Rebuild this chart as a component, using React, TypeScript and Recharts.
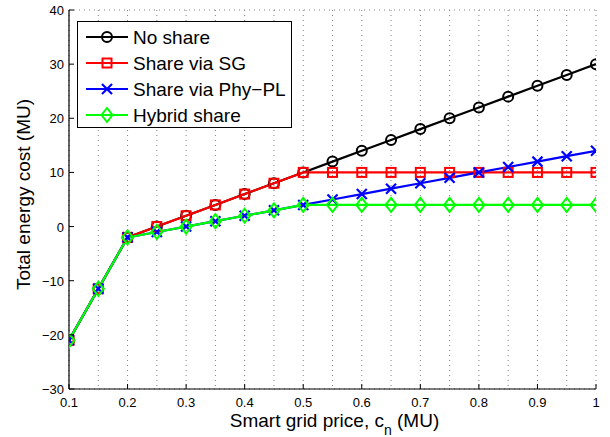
import React from 'react';
import { LineChart, Line, XAxis, YAxis, CartesianGrid, Legend } from 'recharts';

const prices = [0.1, 0.15, 0.2, 0.25, 0.3, 0.35, 0.4, 0.45, 0.5, 0.55, 0.6, 0.65, 0.7, 0.75, 0.8, 0.85, 0.9, 0.95, 1.0];
const noShare = [-21, -11.5, -2, 0, 2, 4, 6, 8, 10, 12, 14, 16, 18, 20, 22, 24, 26, 28, 30];
const shareSG = [-21, -11.5, -2, 0, 2, 4, 6, 8, 10, 10, 10, 10, 10, 10, 10, 10, 10, 10, 10];
const sharePL = [-21, -11.5, -2, -1, 0, 1, 2, 3, 4, 5, 6, 7, 8, 9, 10, 11, 12, 13, 14];
const hybrid = [-21, -11.5, -2, -1, 0, 1, 2, 3, 4, 4, 4, 4, 4, 4, 4, 4, 4, 4, 4];

const xTicks = [0.1, 0.2, 0.3, 0.4, 0.5, 0.6, 0.7, 0.8, 0.9, 1];
const xTickLabels = ['0.1', '0.2', '0.3', '0.4', '0.5', '0.6', '0.7', '0.8', '0.9', '1'];
const yTicks = [-30, -20, -10, 0, 10, 20, 30, 40];

const seriesNames = ['No share', 'Share via SG', 'Share via Phy\u2212PL', 'Hybrid share'];
const seriesColors = ['#000000', '#ff0000', '#0000ff', '#00ff00'];

const data = prices.map((p, i) => ({
  p,
  noShare: noShare[i],
  shareSG: shareSG[i],
  sharePL: sharePL[i],
  hybrid: hybrid[i],
}));

const FONT = '"Liberation Sans", Arial, Helvetica, sans-serif';
const TICK_LEN = 5;
const TICK_FS = 13;
const LABEL_FS = 19;

const Marker = ({ kind, cx, cy, color }: any) => {
  if (cx == null || cy == null) return null;
  const sw = 2;
  if (kind === 0) return <circle cx={cx} cy={cy} r={5} fill="none" stroke={color} strokeWidth={sw} />;
  if (kind === 1) return <rect x={cx - 4.5} y={cy - 4.5} width={9} height={9} fill="none" stroke={color} strokeWidth={sw} />;
  if (kind === 2)
    return (
      <g stroke={color} strokeWidth={2.2}>
        <line x1={cx - 5} y1={cy - 5} x2={cx + 5} y2={cy + 5} />
        <line x1={cx - 5} y1={cy + 5} x2={cx + 5} y2={cy - 5} />
      </g>
    );
  return <polygon points={`${cx},${cy - 7} ${cx + 5.5},${cy} ${cx},${cy + 7} ${cx - 5.5},${cy}`} fill="none" stroke={color} strokeWidth={sw} />;
};

const makeDot = (kind: number, color: string) => (props: any) => (
  <Marker key={`${kind}-${props.index}`} kind={kind} cx={props.cx} cy={props.cy} color={color} />
);

const BottomTick = (props: any) => {
  const { x, y, payload } = props;
  const idx = xTicks.indexOf(payload.value);
  return (
    <g>
      <line x1={x} y1={y} x2={x} y2={y - TICK_LEN} stroke="#000" strokeWidth={1} />
      <text x={x} y={y + 18} textAnchor="middle" fontFamily={FONT} fontSize={TICK_FS} fill="#000">
        {idx >= 0 ? xTickLabels[idx] : String(payload.value)}
      </text>
    </g>
  );
};

const TopTick = (props: any) => {
  const { x, y } = props;
  return <line x1={x} y1={y} x2={x} y2={y + TICK_LEN} stroke="#000" strokeWidth={1} />;
};

const LeftTick = (props: any) => {
  const { x, y, payload } = props;
  const label = String(payload.value).replace('-', '\u2212');
  return (
    <g>
      <line x1={x} y1={y} x2={x + TICK_LEN} y2={y} stroke="#000" strokeWidth={1} />
      <text x={x - 5} y={y + 5} textAnchor="end" fontFamily={FONT} fontSize={TICK_FS} fill="#000">
        {label}
      </text>
    </g>
  );
};

const RightTick = (props: any) => {
  const { x, y } = props;
  return <line x1={x} y1={y} x2={x - TICK_LEN} y2={y} stroke="#000" strokeWidth={1} />;
};

const XLabel = (props: any) => {
  const vb = props.viewBox || {};
  const cx = vb.x + vb.width / 2;
  return (
    <text x={cx + 2} y={427} textAnchor="middle" fontFamily={FONT} fontSize={LABEL_FS} fill="#000">
      Smart grid price, c
      <tspan fontSize={14} dy={8}>n</tspan>
      <tspan dy={-8}> (MU)</tspan>
    </text>
  );
};

const YLabel = (props: any) => {
  const vb = props.viewBox || {};
  const cy = vb.y + vb.height / 2;
  return (
    <text x={0} y={0} transform={`translate(30, ${cy - 5}) rotate(-90)`} textAnchor="middle" fontFamily={FONT} fontSize={LABEL_FS} fill="#000">
      Total energy cost (MU)
    </text>
  );
};

const LegendBox = () => (
  <div
    style={{
      width: 215,
      height: 107,
      border: '1px solid #000',
      background: '#fff',
      boxSizing: 'border-box',
      position: 'relative',
    }}
  >
    <svg width={213} height={105} style={{ display: 'block' }}>
      {seriesNames.map((name, i) => {
        const y = 15 + i * 26;
        return (
          <g key={name}>
            <line x1={8} y1={y} x2={50} y2={y} stroke={seriesColors[i]} strokeWidth={2} />
            <Marker kind={i} cx={29} cy={y} color={seriesColors[i]} />
            <text x={55} y={y + 7} fontFamily={FONT} fontSize={LABEL_FS} fill="#000">
              {name}
            </text>
          </g>
        );
      })}
    </svg>
  </div>
);

export default function App() {
  return (
    <div style={{ position: 'absolute', left: 0, top: 0, width: 610, height: 437, background: '#fff' }}>
      <LineChart width={610} height={437} data={data} margin={{ top: 10, right: 14, left: 0, bottom: 0 }}>
        <CartesianGrid stroke="#808080" strokeDasharray="1 4" strokeWidth={1} />
        <XAxis
          xAxisId="bottom"
          dataKey="p"
          type="number"
          domain={[0.1, 1]}
          ticks={xTicks}
          orientation="bottom"
          height={48}
          tickSize={0}
          tickMargin={0}
          tickLine={false}
          tick={<BottomTick />}
          axisLine={{ stroke: '#000', strokeWidth: 1.2 }}
          interval={0}
          allowDataOverflow
          label={<XLabel />}
        />
        <XAxis
          xAxisId="top"
          dataKey="p"
          type="number"
          domain={[0.1, 1]}
          ticks={xTicks}
          orientation="top"
          height={0}
          tickSize={0}
          tickMargin={0}
          tickLine={false}
          tick={<TopTick />}
          axisLine={{ stroke: '#000', strokeWidth: 1.2 }}
          interval={0}
          allowDataOverflow
        />
        <YAxis
          yAxisId="left"
          type="number"
          domain={[-30, 40]}
          ticks={yTicks}
          orientation="left"
          width={69}
          tickSize={0}
          tickMargin={0}
          tickLine={false}
          tick={<LeftTick />}
          axisLine={{ stroke: '#000', strokeWidth: 1.2 }}
          interval={0}
          allowDataOverflow
          label={<YLabel />}
        />
        <YAxis
          yAxisId="right"
          type="number"
          domain={[-30, 40]}
          ticks={yTicks}
          orientation="right"
          width={0}
          tickSize={0}
          tickMargin={0}
          tickLine={false}
          tick={<RightTick />}
          axisLine={{ stroke: '#000', strokeWidth: 1.2 }}
          interval={0}
          allowDataOverflow
        />
        <Line xAxisId="bottom" yAxisId="left" type="linear" dataKey="noShare" stroke={seriesColors[0]} strokeWidth={2.2} dot={makeDot(0, seriesColors[0])} isAnimationActive={false} />
        <Line xAxisId="bottom" yAxisId="left" type="linear" dataKey="shareSG" stroke={seriesColors[1]} strokeWidth={2.2} dot={makeDot(1, seriesColors[1])} isAnimationActive={false} />
        <Line xAxisId="bottom" yAxisId="left" type="linear" dataKey="sharePL" stroke={seriesColors[2]} strokeWidth={2.2} dot={makeDot(2, seriesColors[2])} isAnimationActive={false} />
        <Line xAxisId="bottom" yAxisId="left" type="linear" dataKey="hybrid" stroke={seriesColors[3]} strokeWidth={2.2} dot={makeDot(3, seriesColors[3])} isAnimationActive={false} />
        <Legend
          layout="vertical"
          align="center"
          verticalAlign="middle"
          content={<LegendBox />}
          wrapperStyle={{ position: 'absolute', left: 77, top: 21, width: 215, height: 107 }}
        />
      </LineChart>
    </div>
  );
}
